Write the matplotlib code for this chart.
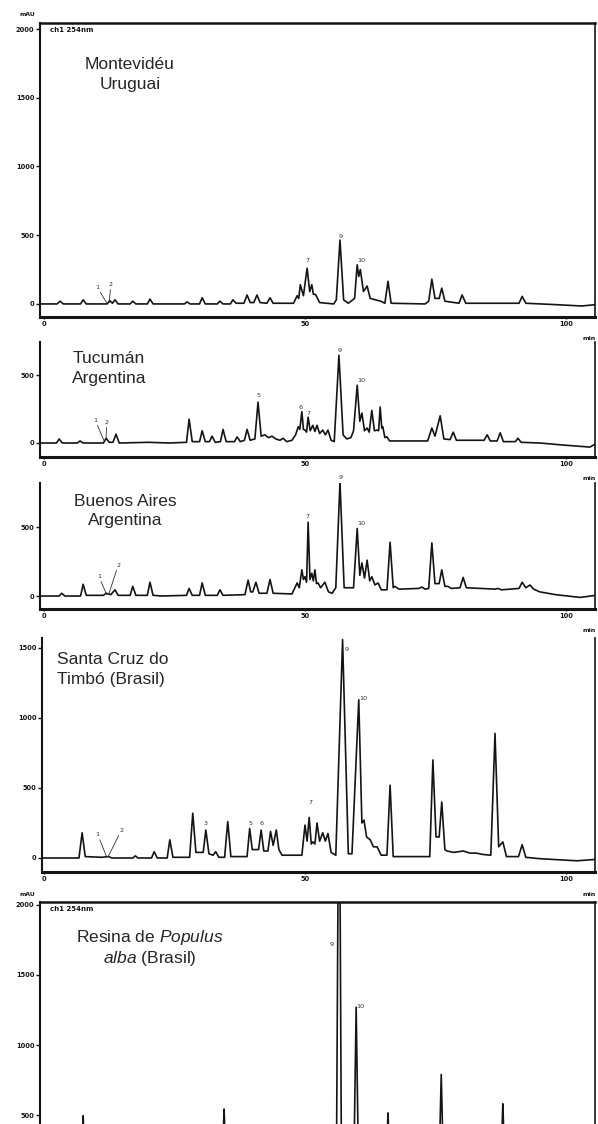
import matplotlib
matplotlib.use("Agg")
import matplotlib.pyplot as plt

# ---------------- data (retention time in min, signal in mAU) ----------------
mont_t = [-1, 2.5, 3.1, 3.7, 7.0, 7.5, 8.1, 12.1, 12.6, 13.1, 13.6, 14.2, 16.5, 17.0, 17.6,
          19.8, 20.3, 20.9, 26.9, 27.4, 28.0, 29.8, 30.3, 30.9, 33.2, 33.7, 34.3, 35.7, 36.2,
          36.8, 38.3, 38.9, 39.5, 40.2, 40.8, 41.4, 42.7, 43.3, 43.9, 47.8, 48.5, 48.8, 49.1,
          49.7, 50.4, 50.9, 51.3, 51.6, 52.0, 52.8, 55.5, 56.0, 56.7, 57.4, 58.3, 59.5, 60.0,
          60.3, 60.6, 61.2, 61.9, 62.5, 63.5, 64.5, 65.3, 65.9, 66.5, 73.0, 73.7, 74.3, 74.9,
          75.7, 76.2, 76.8, 79.5, 80.1, 80.8, 91.0, 91.6, 92.3, 98.0, 103.0, 105.7]
mont_y = [0, 0, 20, 0, 0, 30, 0, 0, 25, 5, 30, 0, 0, 20, 0,
          0, 35, 0, 0, 15, 0, 0, 45, 0, 0, 20, 0, 0, 30,
          5, 5, 65, 10, 10, 65, 10, 5, 45, 5, 5, 60, 40, 140,
          60, 260, 90, 140, 70, 70, 10, 0, 30, 465, 30, 5, 40, 285,
          200, 250, 90, 130, 40, 30, 20, 5, 165, 5, 0, 20, 180, 40,
          40, 115, 20, 5, 65, 5, 5, 55, 5, -5, -15, -5]

tuc_t = [-1, 2.4, 2.9, 3.5, 6.4, 6.9, 7.5, 11.4, 11.9, 12.5, 13.2, 13.8, 14.4, 20, 24,
         27.3, 27.8, 28.4, 29.8, 30.3, 30.9, 31.7, 32.2, 32.8, 33.8, 34.3, 34.9, 36.5, 37.0,
         37.6, 38.4, 38.9, 39.5, 40.4, 41.0, 41.6, 42.3, 43.0, 43.7, 44.4, 45.2, 45.8, 46.5,
         47.5, 48.2, 48.7, 49.0, 49.4, 49.7, 50.0, 50.3, 50.6, 51.0, 51.5, 51.9, 52.3, 52.8,
         53.4, 53.9, 54.4, 55.0, 55.6, 56.5, 57.3, 58.0, 58.8, 59.3, 60.0, 60.5, 60.9, 61.4,
         61.9, 62.3, 62.8, 63.3, 63.8, 64.1, 64.4, 64.7, 64.9, 65.3, 65.7, 66.2, 73.5, 74.3,
         74.9, 75.9, 76.6, 77.8, 78.4, 79.0, 84.3, 84.9, 85.5, 86.8, 87.4, 88.0, 90.3, 90.8,
         91.4, 95.0, 99.4, 104.6, 105.7]
tuc_y = [0, 0, 30, 0, 0, 15, 0, 0, 35, 5, 5, 65, 0, 5, 0,
         5, 175, 10, 10, 90, 10, 10, 50, 5, 10, 100, 10, 10, 45,
         10, 20, 100, 20, 30, 300, 50, 60, 40, 50, 30, 20, 35, 10,
         20, 60, 120, 100, 230, 100, 95, 80, 190, 90, 130, 85, 130, 70,
         95, 60, 95, 20, 10, 645, 60, 30, 40, 90, 425, 160, 220, 90,
         110, 80, 240, 90, 95, 90, 265, 110, 120, 40, 45, 15, 15, 110,
         50, 200, 30, 25, 80, 20, 20, 60, 15, 15, 75, 10, 10, 35,
         5, 0, -15, -30, -5]

bsas_t = [-1, 2.9, 3.4, 4.0, 7.0, 7.5, 8.1, 11.4, 11.9, 12.8, 13.6, 14.2, 16.5, 17.0, 17.6,
          19.8, 20.3, 20.9, 22.5, 27.3, 27.8, 28.4, 29.8, 30.3, 30.9, 33.2, 33.7, 34.3, 38.5,
          39.1, 39.6, 40.0, 40.6, 41.2, 42.7, 43.3, 43.9, 47.5, 48.5, 48.9, 49.4, 49.7, 50.0,
          50.3, 50.6, 50.95, 51.3, 51.6, 51.9, 52.2, 52.5, 53.0, 53.8, 54.5, 55.2, 55.9, 56.7,
          57.5, 58.2, 59.3, 60.0, 60.5, 60.9, 61.4, 61.9, 62.4, 62.8, 63.4, 64.0, 64.6, 65.7,
          66.3, 66.9, 67.2, 68.0, 71.8, 72.4, 73.0, 73.7, 74.3, 74.9, 75.7, 76.2, 76.8, 77.4,
          78.0, 79.7, 80.3, 80.9, 86.4, 87.0, 87.6, 91.0, 91.6, 92.3, 93.1, 93.8, 95.0, 98.0,
          102.7, 105.7]
bsas_y = [0, 0, 20, 0, 0, 85, 5, 5, 20, 10, 45, 5, 5, 70, 5,
          5, 100, 5, 0, 5, 55, 5, 5, 95, 5, 5, 45, 5, 10,
          115, 30, 30, 100, 20, 20, 120, 20, 15, 95, 60, 190, 120, 140,
          100, 535, 120, 165, 110, 190, 90, 95, 60, 100, 30, 20, 60, 825,
          60, 60, 60, 490, 150, 240, 130, 260, 110, 140, 80, 95, 45, 45,
          390, 60, 70, 50, 55, 65, 50, 55, 385, 90, 90, 190, 70, 70,
          55, 60, 135, 60, 50, 55, 45, 55, 100, 60, 80, 50, 30, 10,
          -10, 5]

scruz_t = [-1, 6.7, 7.3, 7.9, 11.0, 12.4, 13.0, 17.0, 17.5, 18.0, 20.6, 21.1, 21.7, 23.6,
           24.1, 24.7, 27.9, 28.5, 29.1, 30.5, 31.0, 31.6, 32.4, 32.9, 33.5, 34.6, 35.2, 35.8,
           38.9, 39.4, 39.9, 41.1, 41.6, 42.1, 42.9, 43.4, 43.9, 44.5, 45.0, 45.6, 49.4, 50.0,
           50.4, 50.8, 51.2, 51.5, 51.9, 52.3, 52.8, 53.4, 53.9, 54.4, 55.0, 55.9, 57.2, 58.3,
           59.0, 60.3, 60.9, 61.3, 61.8, 62.5, 63.1, 63.8, 64.6, 65.7, 66.3, 66.9, 73.9, 74.5,
           75.1, 75.7, 76.2, 76.8, 77.2, 78.5, 80.3, 81.6, 82.8, 84.1, 85.6, 86.4, 87.1, 87.9,
           88.6, 90.9, 91.6, 92.3, 95.0, 102.1, 105.7]
scruz_y = [0, 0, 180, 10, 5, 10, 0, 0, 15, 0, 0, 45, 0, 0,
           130, 5, 5, 320, 40, 40, 200, 30, 20, 45, 5, 5, 260, 10,
           10, 210, 60, 60, 200, 50, 50, 190, 90, 200, 60, 20, 20, 235,
           120, 290, 100, 115, 100, 250, 120, 180, 120, 175, 40, 20, 1560, 30,
           30, 1130, 250, 270, 150, 130, 80, 80, 20, 20, 520, 10, 10, 700,
           150, 150, 400, 60, 50, 40, 50, 35, 35, 25, 20, 890, 80, 115,
           10, 10, 95, 5, -5, -20, -10]

pop_t = [-1, 7.0, 7.5, 8.0, 34.0, 34.5, 35.0, 56.0, 56.4, 56.65, 57.0, 59.3, 59.8, 60.3,
         65.4, 65.9, 66.4, 75.6, 76.1, 76.6, 87.4, 87.9, 88.4, 105.7]
pop_y = [0, 0, 495, 0, 0, 543, 0, 0, 2600, 2600, 0, 0, 1270, 0,
         0, 515, 0, 0, 790, 0, 0, 580, 0, 0]

titles = [["Montevidéu", "Uruguai"],
          ["Tucumán", "Argentina"],
          ["Buenos Aires", "Argentina"],
          ["Santa Cruz do", "Timbó (Brasil)"],
          [r"Resina de $\mathit{Populus}$", r"$\mathit{alba}$ (Brasil)"]]

yticks = [[0, 500, 1000, 1500, 2000], [0, 500], [0, 500], [0, 500, 1000, 1500],
          [500, 1000, 1500, 2000]]
xticks = [0, 50, 100]

# ---------------- layout ----------------
W, H = 598, 1124
plt.rcParams['mathtext.fontset'] = 'custom'
plt.rcParams['mathtext.rm'] = 'Liberation Sans'
plt.rcParams['mathtext.it'] = 'Liberation Sans:italic'

fig = plt.figure(figsize=(W / 100, H / 100), dpi=100)
fig.patch.set_facecolor('white')

# (left, right, top, bottom) pixel boxes, y-limits
boxes = [(40, 595, 23, 317), (40, 595, 342, 457), (40, 595, 483, 609),
         (42, 595, 638, 872), (40, 595, 902, 1124)]
ylims = [(-95, 2044), (-103, 743), (-94, 819), (-100, 1571), (436, 2021)]
series = [(mont_t, mont_y), (tuc_t, tuc_y), (bsas_t, bsas_y), (scruz_t, scruz_y),
          (pop_t, pop_y)]
title_pos = [  # (x, y_line1, y_line2, ha)
    (130, 69, 89, 'center'), (109, 363, 383, 'center'), (125, 506, 525, 'center'),
    (57, 664, 684, 'left'), (150, 942, 963, 'center')]

# peak number labels: (text, t, value)
peak_labels = [
    [("7", 50.4, 300), ("9", 56.9, 470), ("10", 60.7, 300)],
    [("5", 41.0, 330), ("6", 49.2, 245), ("7", 50.6, 200), ("9", 56.6, 660), ("10", 60.7, 440)],
    [("7", 50.5, 560), ("9", 56.8, 840), ("10", 60.8, 505)],
    [("3", 31.0, 225), ("5", 39.5, 225), ("6", 41.6, 225), ("7", 51.0, 380),
     ("9", 57.9, 1470), ("10", 61.1, 1120)],
    [("9", 55.2, 1700), ("10", 60.5, 1260)],
]
# labels 1,2 with pointer lines: (text, text_t, text_v, tip_t, tip_v)
pointer_labels = [
    [("1", 10.2, 105, 12.0, 8), ("2", 12.8, 125, 12.5, 10)],
    [("1", 9.8, 150, 11.6, 8), ("2", 12.0, 135, 11.9, 35)],
    [("1", 10.5, 125, 12.0, 10), ("2", 14.2, 205, 12.4, 12)],
    [("1", 10.3, 150, 12.0, 8), ("2", 14.8, 180, 12.3, 10)],
    [],
]

line_kw = dict(color='#141414', lw=1.2)
for i, ((l, r, t, b), (ts, ys)) in enumerate(zip(boxes, series)):
    ax = fig.add_axes([l / W, 1 - b / H, (r - l) / W, (b - t) / H])
    ax.plot(ts, ys, **line_kw, clip_on=True)
    ax.set_xlim((l - 44) / 5.22, (595 - 44) / 5.22)
    ax.set_ylim(*ylims[i])
    ax.set_facecolor('none')
    for s in ax.spines.values():
        s.set_color('#141414')
    ax.spines['left'].set_linewidth(1.5)
    ax.spines['right'].set_linewidth(1.2)
    ax.spines['bottom'].set_linewidth(2.2)
    ax.spines['top'].set_linewidth(1.8)
    if i not in (0, 4):
        ax.spines['top'].set_visible(False)
    ax.set_yticks(yticks[i], labels=[str(v) for v in yticks[i]], fontsize=4.8,
                  fontweight='bold')
    ax.tick_params(axis='y', direction='out', length=3, width=1.0, pad=1,
                   colors='#141414')
    if i < 4:
        ax.set_xticks(xticks, labels=[str(v) for v in xticks], fontsize=4.8,
                      fontweight='bold')
        ax.tick_params(axis='x', direction='out', length=1.5, width=1.0, pad=1.5,
                       colors='#141414')
        fig.text(596 / W, 1 - (b + 22) / H, "min", ha='right', va='center',
                 fontsize=4.5, fontweight='bold', color='#141414')
    else:
        ax.spines['bottom'].set_visible(False)
        ax.set_xticks([])

    x, y1, y2, ha = title_pos[i]
    for txt, yy in ((titles[i][0], y1), (titles[i][1], y2)):
        fig.text(x / W, 1 - yy / H, txt, ha=ha, va='baseline', fontsize=12.5,
                 family='Liberation Sans', color='#262626')

    for txt, tt, vv in peak_labels[i]:
        ax.text(tt, vv, txt, fontsize=4.6, ha='center', va='bottom', color='#303030')
    for txt, tt, vv, pt, pv in pointer_labels[i]:
        ax.annotate(txt, xy=(pt, pv), xytext=(tt, vv), fontsize=4.6, ha='center',
                    va='bottom', color='#303030',
                    arrowprops=dict(arrowstyle='-', lw=0.6, color='#303030',
                                    shrinkA=0, shrinkB=0))

    if i in (0, 4):
        fig.text(50 / W, 1 - (t + 7) / H, "ch1 254nm", ha='left', va='center',
                 fontsize=5, fontweight='bold', color='#141414')
        fig.text(27 / W, 1 - (t - 8) / H, "mAU", ha='center', va='center',
                 fontsize=4.3, fontweight='bold', color='#141414')

fig.savefig("out.png", dpi=100, facecolor='white')
